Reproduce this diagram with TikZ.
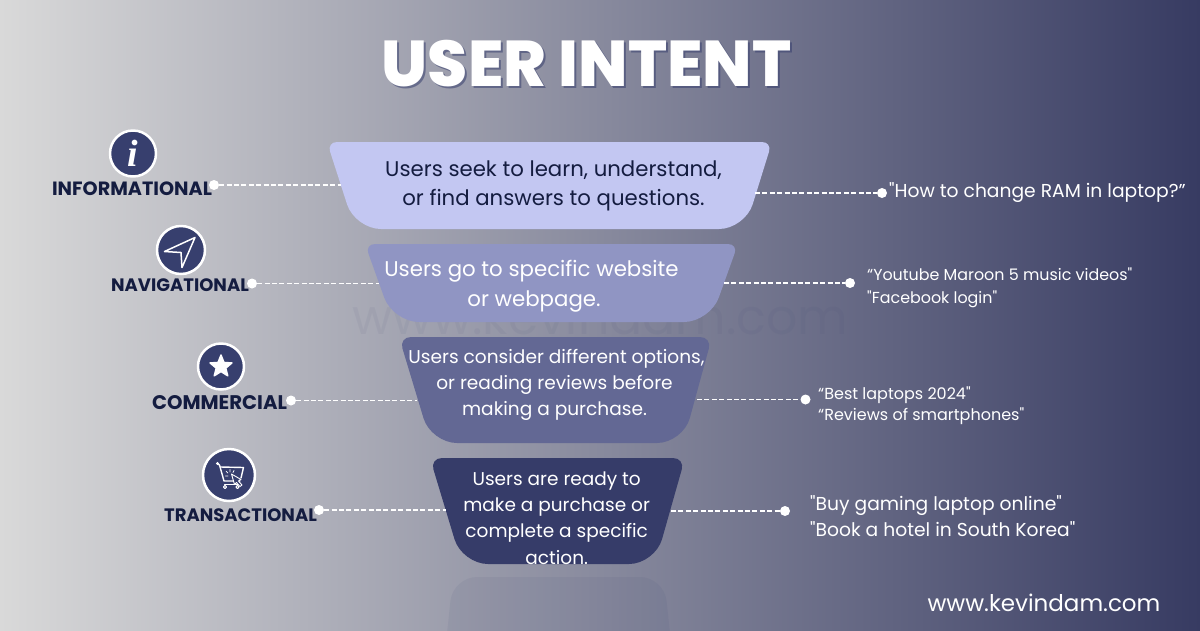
\documentclass[tikz,border=0pt]{standalone}
\usepackage{fontspec}
\setmainfont{Poppins}
\newfontfamily\titlefont{Poppins ExtraBold}
\newfontfamily\iconfont{Liberation Serif}
\newfontfamily\queryfont{Poppins}
\usetikzlibrary{shapes.geometric}
\definecolor{bgleft}{HTML}{D9D9D9}
\definecolor{bgright}{HTML}{373B62}
\definecolor{inkdark}{HTML}{141C40}
\definecolor{iconblue}{HTML}{373F6E}
\definecolor{funnelA}{HTML}{C3C7F2}
\definecolor{funnelB}{HTML}{9095C3}
\definecolor{funnelC}{HTML}{636894}
\definecolor{funnelD}{HTML}{363C69}
\newcommand{\fsz}[2]{\fontsize{#1}{#2}\selectfont}
\begin{document}
\begin{tikzpicture}[x=1pt, y=-1pt, line join=round, line cap=round,
	kind/.style={font=\fsz{#1}{22}\bfseries, text=inkdark, inner sep=0pt},
	body/.style={align=center, inner sep=0pt, text=white},
	query/.style={align=left, anchor=west, inner sep=0pt, text=white},
	dot/.style={circle, fill=white, inner sep=0pt, minimum size=10pt},
	link/.style={white, line width=1.8pt, line cap=butt, dash pattern=on 5pt off 2.4pt},
	icon/.style={circle, fill=iconblue, draw=white, line width=2.5pt, inner sep=0pt, text=white},
	glyph/.style={white, line width=1.4pt}]
	\useasboundingbox (0,0) rectangle (1200,630);
	\shade[left color=bgleft, right color=bgright] (0,0) rectangle (1200,630);
	\node[text=iconblue, opacity=0.06, font=\fsz{49}{49}, inner sep=0pt] (mark) at (600,316) {www.kevindam.com};
	\node[text=iconblue, opacity=0.55, font=\fsz{64.7}{66}\titlefont, inner sep=0pt] (shadow) at (588.5,66) {USER INTENT};
	\node[text=white, font=\fsz{64.7}{66}\titlefont, inner sep=0pt] (title) at (586.5,64) {USER INTENT};
	\fill[funnelA, rounded corners=10pt] (327,142)--(772,142)[rounded corners=26pt]--(745,229)--(355,229)[rounded corners=10pt]--cycle;
	\fill[funnelB, rounded corners=10pt] (365,244)--(738,244)[rounded corners=26pt]--(710,322)--(393,322)[rounded corners=10pt]--cycle;
	\fill[funnelC, rounded corners=12pt] (399,337)--(712,337)[rounded corners=26pt]--(683,443)--(431,443)[rounded corners=12pt]--cycle;
	\fill[funnelD, rounded corners=12pt] (430,458)--(685,458)[rounded corners=26pt]--(655,564)--(462,564)[rounded corners=12pt]--cycle;
	\fill[iconblue, opacity=0.07, rounded corners=24pt] (442,680)--(453,577)--(664,577)--(675,680)--cycle;
	\node[body, text=inkdark, font=\fsz{21.25}{29}] (textA) at (553.5,186) {Users seek to learn, understand,\\or find answers to questions.};
	\node[body, font=\fsz{21.3}{30}] (textB) at (534,286) {Users go to specific website\hspace*{5pt}\\or webpage.};
	\node[body, font=\fsz{18.56}{26}] (textC) at (554.5,385) {\hspace*{4pt}Users consider different options,\\or reading reviews before\\making a purchase.};
	\node[body, font=\fsz{18.5}{26.3}] (textD) at (556.7,518) {Users are ready to\\make a purchase or\\complete a specific\\action.};
	\node[kind=19.2] (infolabel) at (132,189) {INFORMATIONAL};
	\node[kind=18] (navlabel) at (180,285.5) {NAVIGATIONAL};
	\node[kind=19.7] (comlabel) at (219.5,403) {COMMERCIAL};
	\node[kind=18] (translabel) at (240.5,515.5) {TRANSACTIONAL};
	\node[query, font=\fsz{18.7}{24}\queryfont] (queryA) at (889,193) {"How to change RAM in laptop?”};
	\node[query, font=\fsz{15.9}{22.5}\queryfont] (queryB) at (867,288) {“Youtube Maroon 5 music videos"\\"Facebook login"};
	\node[query, font=\fsz{16}{21.5}\queryfont] (queryC) at (818,405.5) {“Best laptops 2024"\\“Reviews of smartphones"};
	\node[query, font=\fsz{18.7}{26}\queryfont] (queryD) at (810,516.5) {"Buy gaming laptop online"\\"Book a hotel in South Korea"};
	\node[text=white, font=\fsz{23}{24}, inner sep=0pt] (site) at (1044,603) {www.kevindam.com};
	\node[dot] (infoL) at (214,185) {};
	\node[dot] (navL) at (252,283.5) {};
	\node[dot] (comL) at (291,400.5) {};
	\node[dot] (transL) at (319,510) {};
	\node[dot] (infoR) at (882,193) {};
	\node[dot] (navR) at (850,283) {};
	\node[dot] (comR) at (805.5,399.5) {};
	\node[dot] (transR) at (785,511) {};
	\coordinate (infoA) at (341,185);
	\coordinate (navA) at (379,283.5);
	\coordinate (comA) at (417,400.5);
	\coordinate (transA) at (446,510);
	\coordinate (infoB) at (755,193);
	\coordinate (navB) at (724,283);
	\coordinate (comB) at (697,399.5);
	\coordinate (transB) at (671,511);
	\draw[link] (infoL)--(infoA);
	\draw[link] (navL)--(navA);
	\draw[link] (comL)--(comA);
	\draw[link] (transL)--(transA);
	\draw[link] (infoB)--(infoR);
	\draw[link] (navB)--(navR);
	\draw[link] (comB)--(comR);
	\draw[link] (transB)--(transR);
	\node[icon, minimum size=46pt, font=\fsz{38}{38}\iconfont\bfseries\itshape] (infoicon) at (133,153.5) {i};
	\node[icon, minimum size=48pt] (navicon) at (181,250) {};
	\node[icon, minimum size=46pt] (staricon) at (221,366.5) {};
	\node[icon, minimum size=52pt] (carticon) at (229,475) {};
	\draw[glyph, line width=1.5pt] (195,237.5)--(164.5,251.5)--(181,252.5)--(182,267.5)--cycle;
	\node[star, star points=5, star point ratio=2.3, fill=white, draw=white, line width=1.5pt, minimum size=23pt, inner sep=0pt] (starglyph) at (221,366.5) {};
	\fill[white] (217.5,463.5) circle (1.6pt);
	\draw[glyph] (217.5,463.5)--(219.5,465)--(224,481)--(240,481);
	\draw[glyph] (220.5,467)--(243.5,467.5)--(241,478);
	\draw[glyph, line width=1pt] (224.5,484)--(238,484);
	\draw[glyph, line width=1pt] (225,487) circle (1.6pt) (237.5,487) circle (1.6pt);
	\filldraw[white, fill=iconblue, line width=0.9pt] (231.5,474)--(241,479.5)--(238.5,481)--(242,485)--(240,486.5)--(236.5,482.5)--(234.5,484.5)--cycle;
	\draw[white, line width=0.7pt] (230,469.5)--(230,472) (226,471)--(228,473) (225.5,476)--(228,476) (234,470.5)--(233,472.5);
\end{tikzpicture}
\end{document}
